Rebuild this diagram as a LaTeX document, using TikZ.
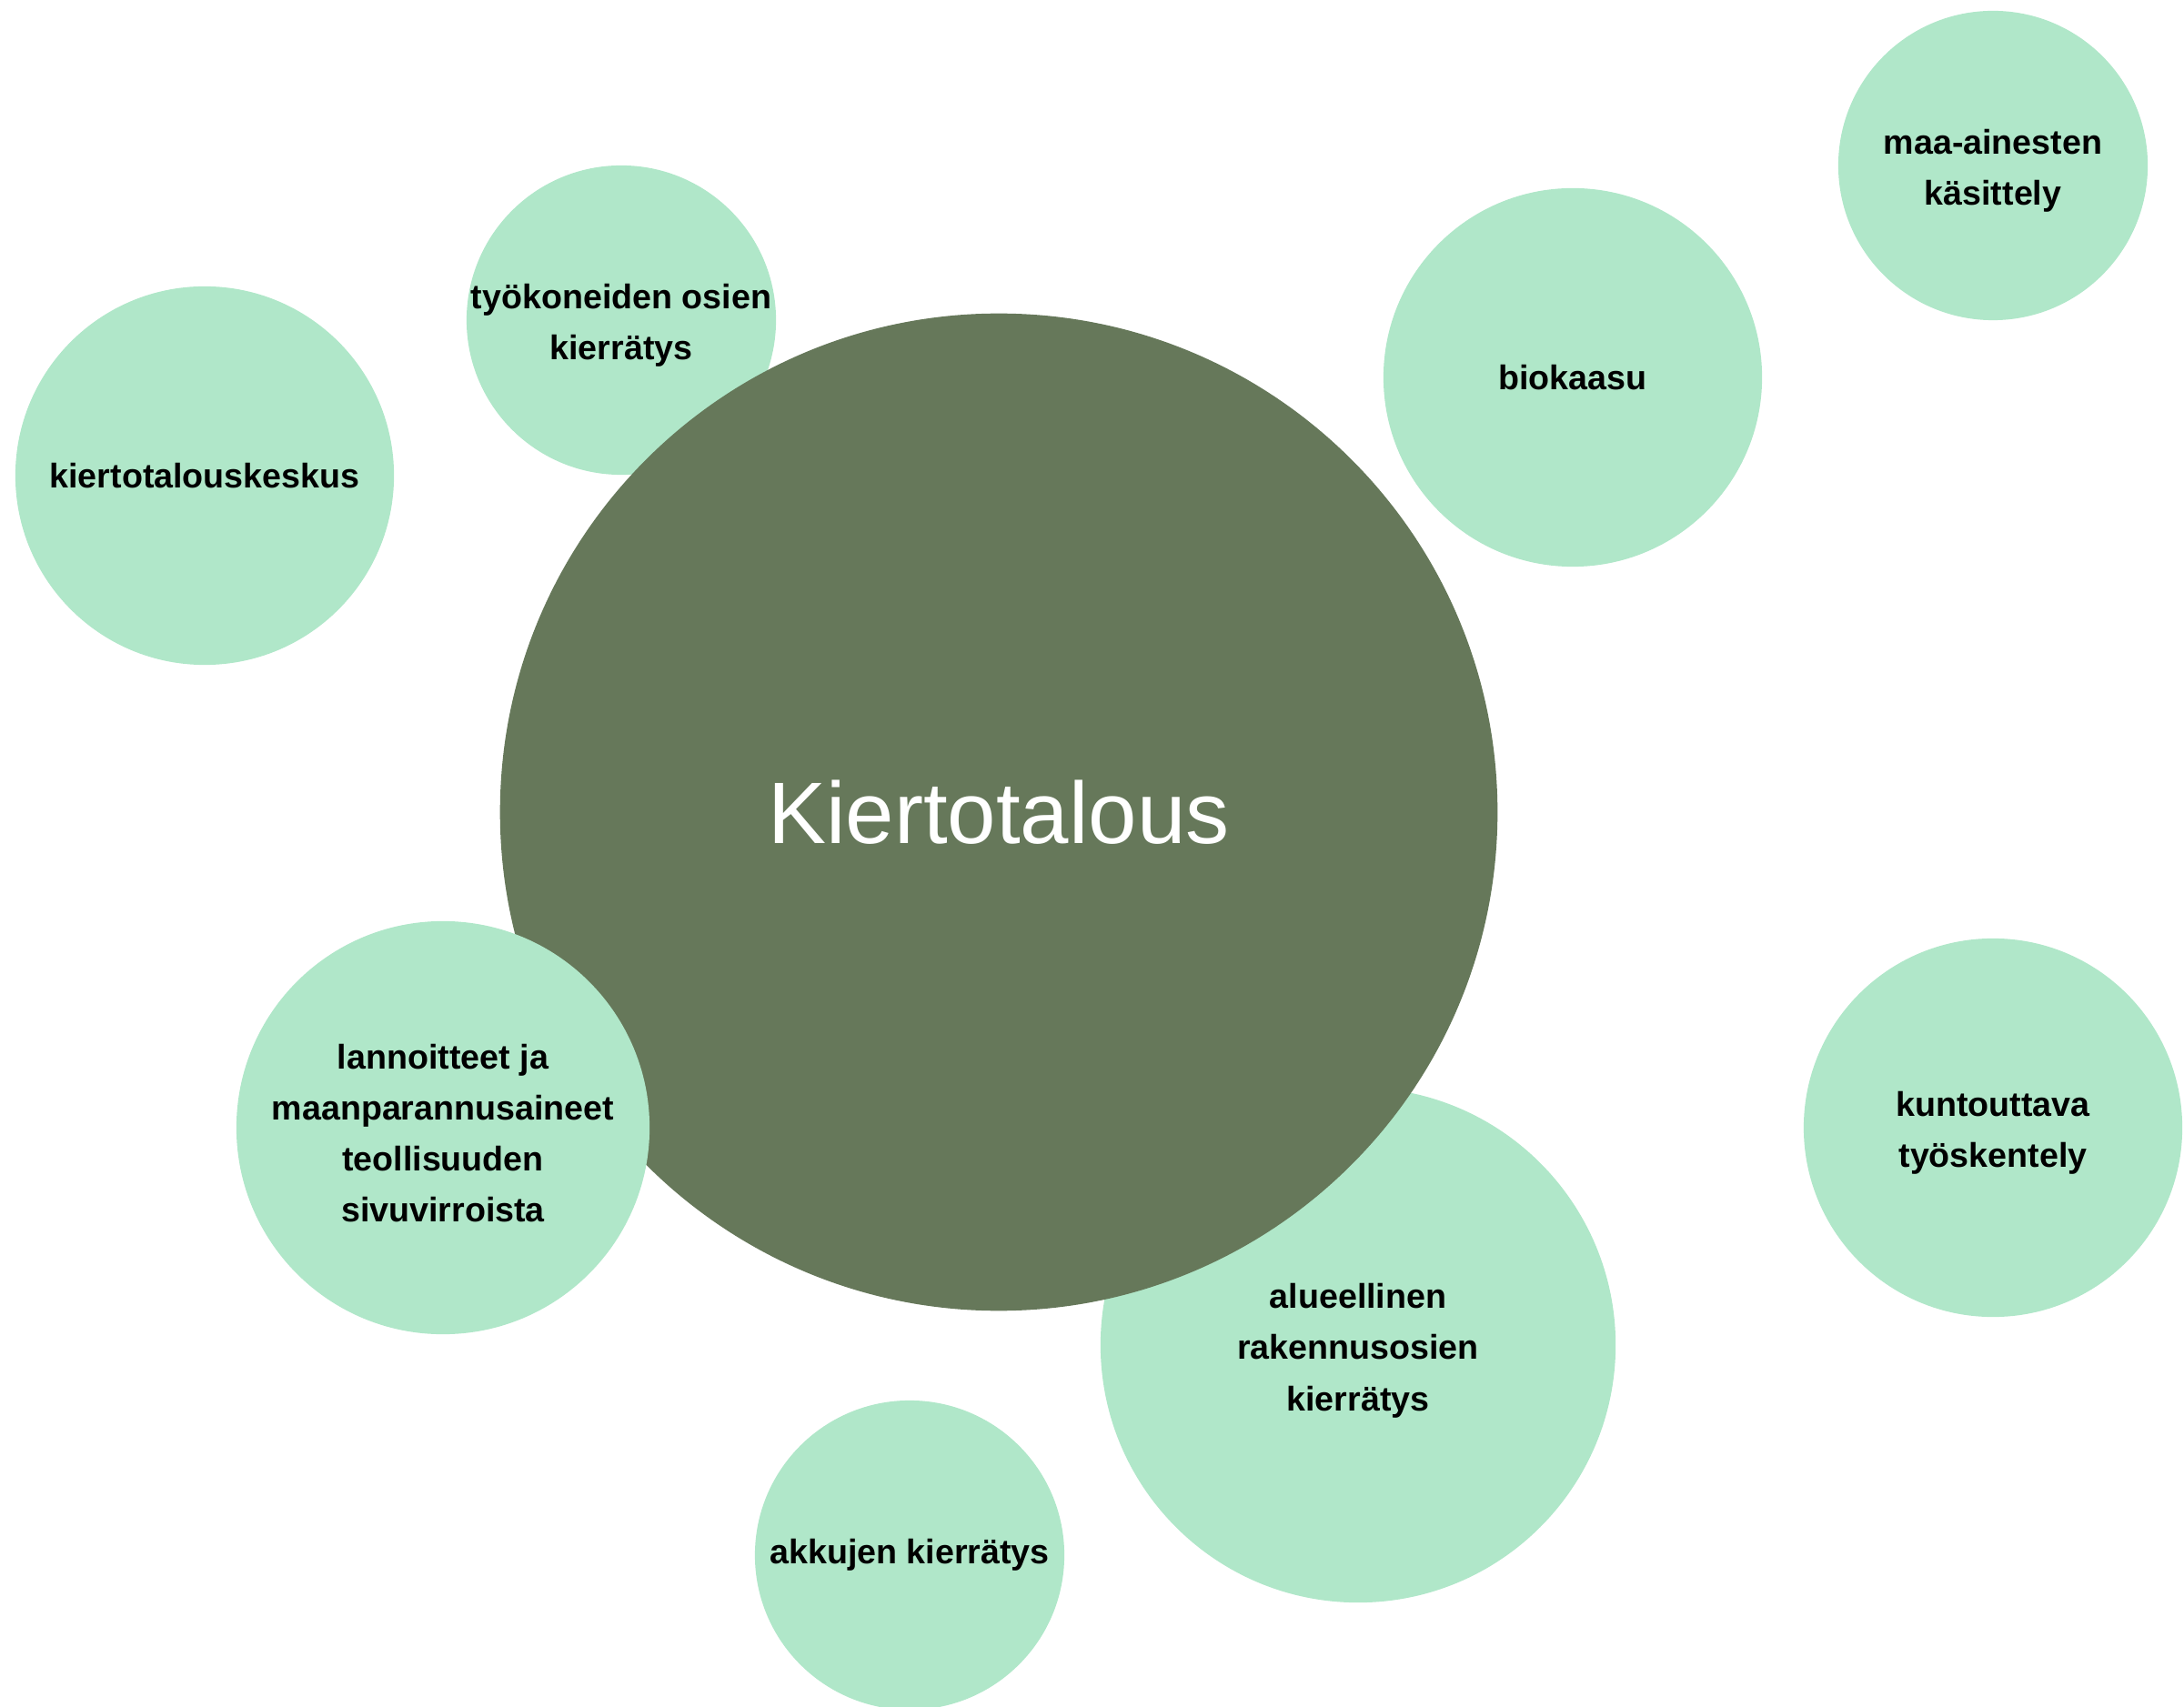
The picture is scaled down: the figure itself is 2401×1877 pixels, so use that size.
\documentclass[tikz,border=0pt]{standalone}
\usepackage{fontspec}
\setmainfont{Liberation Sans}
\usetikzlibrary{positioning}
\definecolor{mossgreen}{HTML}{66785A}
\definecolor{mintgreen}{HTML}{B0E7C9}

\begin{document}
\begin{tikzpicture}[
  x=0.01cm, y=-0.01cm,
  bubble/.style={circle,fill=mintgreen,inner sep=0pt,minimum size=#1,
    align=center,font=\fontsize{10.7}{16}\selectfont\bfseries,text=black},
  hub/.style={circle,fill=mossgreen,inner sep=0pt,minimum size=#1,
    align=center,font=\fontsize{27.3}{32}\selectfont,text=white}]

  % Fix the page to the reference size
  \useasboundingbox (0,0) rectangle (2401,1877);

  % Circles lying under the central circle
  \node[bubble=3.40cm,inner sep=-0.1cm] (kone) at (683,352) {\strut työkoneiden osien\\kierrätys};
  \node[bubble=5.66cm] (rakennus) at (1493,1479) {\strut alueellinen\\rakennusosien\\kierrätys};

  % The central circle
  \node[hub=10.96cm] (kierto) at (1098,893) {Kiertotalous};

  % Circles around it
  \node[bubble=4.16cm] (keskus) at (225,523) {kiertotalouskeskus};
  \node[bubble=4.16cm] (biokaasu) at (1729,415) {biokaasu};
  \node[bubble=3.40cm] (maa) at (2191,182) {\strut maa-ainesten\\käsittely};
  \node[bubble=4.16cm] (kuntoutus) at (2191,1240) {\strut kuntouttava\\työskentely};
  \node[bubble=3.40cm] (akut) at (1000,1710) {akkujen kierrätys};
  \node[bubble=4.54cm] (lannoite) at (487,1240) {\strut lannoitteet ja\\maanparannusaineet\\teollisuuden\\sivuvirroista};
\end{tikzpicture}
\end{document}
